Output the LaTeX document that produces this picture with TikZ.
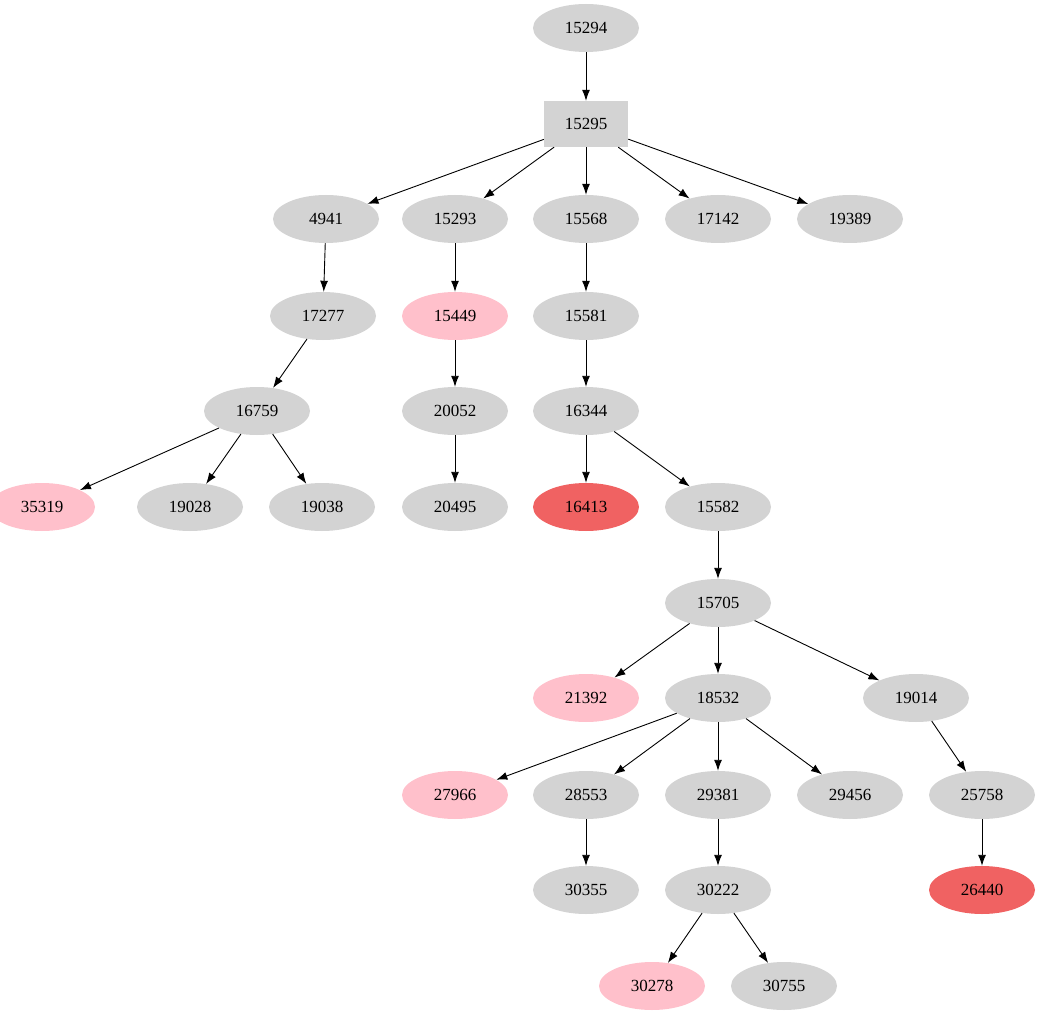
\documentclass[tikz,border=0pt]{standalone}
\usepackage{fontspec}
\setmainfont{Liberation Serif}
\usetikzlibrary{arrows.meta,shapes.geometric}
\definecolor{gr}{HTML}{D3D3D3}
\definecolor{pk}{HTML}{FFC0CB}
\definecolor{rd}{HTML}{F06262}
\begin{document}
\begin{tikzpicture}[x=1pt,y=-1pt,
 n/.style={ellipse,fill=gr,minimum width=106pt,minimum height=48pt,inner sep=0pt,font=\fontsize{17}{17}\selectfont},
 p/.style={n,fill=pk}, r/.style={n,fill=rd},
 e/.style={-{Latex[length=11pt,width=8pt]},line width=0.9pt}]
\useasboundingbox (0,0) rectangle (1042,1019);
\node[n] (a15294) at (586,28) {15294};
\node[n,rectangle,minimum width=84pt,minimum height=46pt] (a15295) at (586,124) {15295};
\node[n] (a4941) at (326,219) {4941};
\node[n] (a15293) at (455,219) {15293};
\node[n] (a15568) at (586,219) {15568};
\node[n] (a17142) at (718,219) {17142};
\node[n] (a19389) at (850,219) {19389};
\node[n] (a17277) at (323,316) {17277};
\node[p] (a15449) at (455,316) {15449};
\node[n] (a15581) at (586,316) {15581};
\node[n] (a16759) at (257,411) {16759};
\node[n] (a20052) at (455,411) {20052};
\node[n] (a16344) at (586,411) {16344};
\node[p] (a35319) at (42,507) {35319};
\node[n] (a19028) at (190,507) {19028};
\node[n] (a19038) at (322,507) {19038};
\node[n] (a20495) at (455,507) {20495};
\node[r] (a16413) at (586,507) {16413};
\node[n] (a15582) at (718,507) {15582};
\node[n] (a15705) at (718,603) {15705};
\node[p] (a21392) at (586,698) {21392};
\node[n] (a18532) at (718,698) {18532};
\node[n] (a19014) at (916,698) {19014};
\node[p] (a27966) at (455,795) {27966};
\node[n] (a28553) at (586,795) {28553};
\node[n] (a29381) at (718,795) {29381};
\node[n] (a29456) at (850,795) {29456};
\node[n] (a25758) at (982,795) {25758};
\node[n] (a30355) at (586,890) {30355};
\node[n] (a30222) at (718,890) {30222};
\node[r] (a26440) at (982,890) {26440};
\node[p] (a30278) at (652,986) {30278};
\node[n] (a30755) at (784,986) {30755};
\foreach \s/\t in {15294/15295,15295/4941,15295/15293,15295/15568,15295/17142,15295/19389,
 4941/17277,15293/15449,15568/15581,17277/16759,15449/20052,15581/16344,
 16759/35319,16759/19028,16759/19038,20052/20495,16344/16413,16344/15582,
 15582/15705,15705/21392,15705/18532,15705/19014,
 18532/27966,18532/28553,18532/29381,18532/29456,19014/25758,
 28553/30355,29381/30222,25758/26440,30222/30278,30222/30755}
 \draw[e] (a\s) -- (a\t);
\end{tikzpicture}
\end{document}
